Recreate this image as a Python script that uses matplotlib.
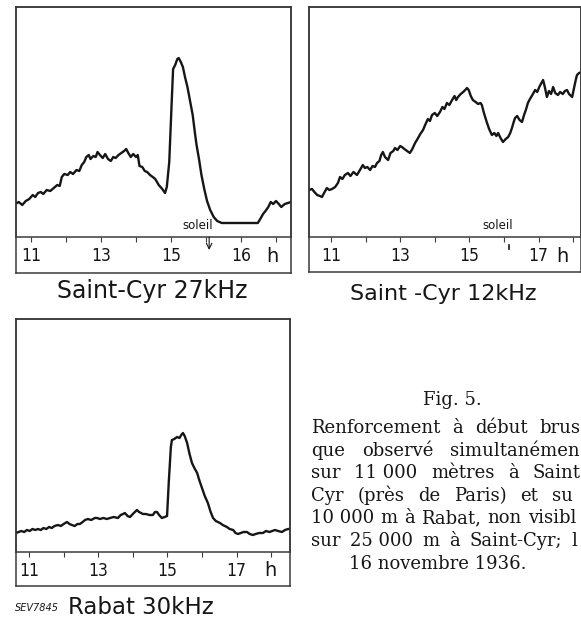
import matplotlib
matplotlib.use('Agg')
import matplotlib.pyplot as plt

W, H = 581, 620

# ---------------- data (hour of day, signal level in arbitrary units) ----------------
p1_hours = [10.55, 10.65, 10.75, 10.85, 10.95, 11.05, 11.12, 11.2, 11.28, 11.35, 11.45, 11.55, 11.65,
            11.75, 11.82, 11.88, 11.95, 12.05, 12.12, 12.2, 12.3, 12.38, 12.45, 12.52, 12.58, 12.65,
            12.7, 12.78, 12.85, 12.9, 12.97, 13.05, 13.12, 13.2, 13.28, 13.35, 13.42, 13.5, 13.58,
            13.66, 13.72, 13.78, 13.85, 13.92, 14.0, 14.05, 14.1, 14.18, 14.25, 14.32, 14.4, 14.48,
            14.55, 14.65, 14.75, 14.83, 14.88, 14.95, 15.02, 15.06, 15.12, 15.18, 15.22, 15.28, 15.34,
            15.4, 15.47, 15.55, 15.62, 15.68, 15.73, 15.8, 15.87, 15.95, 16.03, 16.12, 16.22, 16.32,
            16.45, 16.8, 17.2, 17.48, 17.55, 17.63, 17.7, 17.78, 17.85, 17.92, 18.0, 18.08, 18.15,
            18.25, 18.43]
p1_level = [33, 35, 32, 36, 38, 42, 40, 44, 45, 43, 47, 46, 49,
            52, 51, 60, 63, 62, 65, 63, 67, 66, 72, 75, 80, 82,
            78, 81, 80, 85, 82, 79, 83, 78, 76, 80, 79, 82, 84,
            86, 88, 84, 80, 83, 80, 82, 71, 70, 66, 65, 62, 60,
            58, 52, 48, 44, 50, 75, 135, 168, 172, 178, 179, 175, 170,
            160, 150, 135, 122, 105, 92, 78, 62, 48, 36, 27, 20, 16,
            14, 14, 14, 14, 18, 23, 26, 30, 35, 33, 36, 33, 30,
            33, 35]

p2_hours = [10.36, 10.45, 10.52, 10.6, 10.68, 10.74, 10.8, 10.88, 10.95, 11.03, 11.12, 11.2, 11.26,
            11.33, 11.4, 11.49, 11.56, 11.65, 11.75, 11.82, 11.92, 11.98, 12.05, 12.13, 12.2, 12.27,
            12.33, 12.4, 12.45, 12.5, 12.56, 12.65, 12.72, 12.8, 12.85, 12.92, 13.0, 13.05, 13.12,
            13.2, 13.28, 13.35, 13.43, 13.5, 13.58, 13.66, 13.72, 13.8, 13.86, 13.92, 14.0, 14.07,
            14.15, 14.22, 14.28, 14.35, 14.42, 14.5, 14.57, 14.62, 14.67, 14.75, 14.82, 14.88, 14.93,
            14.98, 15.04, 15.1, 15.18, 15.25, 15.32, 15.36, 15.42, 15.5, 15.57, 15.65, 15.72, 15.78,
            15.83, 15.9, 15.97, 16.05, 16.12, 16.18, 16.23, 16.28, 16.32, 16.38, 16.45, 16.52, 16.58,
            16.64, 16.69, 16.75, 16.82, 16.9, 16.96, 17.02, 17.08, 17.13, 17.18, 17.24, 17.3, 17.36,
            17.42, 17.48, 17.56, 17.62, 17.7, 17.76, 17.82, 17.88, 17.97, 18.03, 18.08, 18.11, 18.17,
            18.25]
p2_level = [47, 48, 45, 42, 41, 40, 44, 49, 47, 48, 50, 54, 60,
            58, 62, 64, 61, 65, 62, 66, 72, 69, 70, 67, 71, 70,
            74, 76, 82, 85, 80, 77, 84, 86, 89, 87, 91, 90, 88,
            86, 84, 88, 94, 98, 103, 107, 112, 118, 116, 122, 124, 121,
            125, 130, 128, 134, 132, 137, 141, 137, 140, 143, 145, 147, 149,
            147, 141, 137, 135, 133, 134, 132, 124, 115, 108, 102, 104, 101,
            104, 99, 95, 98, 100, 104, 109, 115, 119, 121, 117, 115, 122,
            128, 134, 138, 142, 147, 145, 150, 154, 157, 150, 140, 146, 143,
            150, 144, 142, 145, 143, 146, 147, 143, 140, 150, 158, 162, 164,
            165]

p3_hours = [10.63, 10.7, 10.78, 10.86, 10.94, 11.02, 11.1, 11.18, 11.26, 11.34, 11.42, 11.5, 11.58,
            11.66, 11.74, 11.84, 11.92, 12.0, 12.1, 12.17, 12.24, 12.32, 12.4, 12.47, 12.55, 12.62,
            12.7, 12.8, 12.9, 12.97, 13.05, 13.15, 13.25, 13.34, 13.45, 13.57, 13.65, 13.72, 13.77,
            13.85, 13.92, 14.0, 14.06, 14.12, 14.18, 14.24, 14.29, 14.38, 14.48, 14.58, 14.64, 14.7,
            14.76, 14.84, 14.92, 14.99, 15.04, 15.1, 15.13, 15.2, 15.28, 15.35, 15.4, 15.45, 15.5,
            15.57, 15.64, 15.71, 15.78, 15.86, 15.92, 16.0, 16.08, 16.17, 16.25, 16.32, 16.4, 16.52,
            16.6, 16.72, 16.8, 16.9, 16.97, 17.04, 17.12, 17.2, 17.3, 17.38, 17.47, 17.55, 17.65,
            17.76, 17.85, 17.95, 18.03, 18.11, 18.2, 18.31, 18.4, 18.49, 18.54]
p3_level = [19, 20, 21, 20, 22, 21, 23, 22, 23, 22, 24, 23, 25,
            24, 26, 27, 26, 28, 30, 28, 27, 26, 28, 28, 30, 32,
            33, 32, 34, 34, 33, 34, 33, 34, 35, 34, 37, 38, 39,
            36, 35, 38, 40, 42, 40, 39, 38, 38, 37, 37, 40, 40,
            37, 34, 35, 36, 70, 105, 112, 113, 115, 114, 117, 119, 116,
            109, 98, 89, 84, 79, 72, 64, 56, 49, 40, 34, 31, 29,
            27, 25, 23, 22, 19, 18, 19, 20, 20, 18, 17, 18, 19,
            19, 21, 20, 21, 22, 21, 20, 22, 23, 23]

tick_hours = [11, 12, 13, 14, 15, 16, 17, 18]
p1_tick_labels = ['11', '', '13', '', '15', '', '16', '']
p2_tick_labels = ['11', '', '13', '', '15', '', '17', '']
p3_tick_labels = ['11', '', '13', '', '15', '', '17', '']

p1_title = 'Saint-Cyr 27kHz'
p2_title = 'Saint -Cyr 12kHz'
p3_title = 'Rabat 30kHz'
p1_sunset = 16.09
p2_sunset = 16.14

caption_title = 'Fig. 5.'
caption_lines = [
    ['Renforcement', 'à', 'début', 'brus'],
    ['que', 'observé', 'simultanémen'],
    ['sur', '11 000', 'mètres', 'à', 'Saint'],
    ['Cyr', '(près', 'de', 'Paris)', 'et', 'su'],
    ['10 000', 'm', 'à', 'Rabat,', 'non', 'visibl'],
    ['sur', '25 000', 'm', 'à', 'Saint-Cyr;', 'l'],
]
caption_last = '16 novembre 1936.'

# ---------------- layout helpers ----------------
fig = plt.figure(figsize=(W / 100, H / 100), dpi=100)
fig.patch.set_facecolor('white')

INK = '#161616'
FRAME = '#3a3a3a'


def rect(x0, y0, x1, y1):
    return [x0 / W, 1 - y1 / H, (x1 - x0) / W, (y1 - y0) / H]


def panel(x0, x1, y0, axis_y, y1, px_h11, px_per_h, hours, level, labels):
    # outer frame (chart + tick-label strip)
    fr = fig.add_axes(rect(x0, y0, x1, y1))
    fr.set_xticks([]); fr.set_yticks([])
    for s in fr.spines.values():
        s.set_color(FRAME); s.set_linewidth(1.1)
    fr.patch.set_alpha(0)
    # data area
    ax = fig.add_axes(rect(x0, y0, x1, axis_y))
    ax.patch.set_alpha(0)
    ax.set_xlim(11 + (x0 - px_h11) / px_per_h, 11 + (x1 - px_h11) / px_per_h)
    ax.set_ylim(0, axis_y - y0)
    ax.plot(hours, level, color=INK, lw=1.7, solid_joinstyle='round')
    for s in ax.spines.values():
        s.set_color(FRAME); s.set_linewidth(1.1)
    ax.set_yticks([])
    ax.set_xticks(tick_hours, labels)
    ax.tick_params(axis='x', direction='out', length=3.5, width=0.8, color=FRAME,
                   pad=3.5, labelsize=12.5, labelcolor=INK)
    for t in ax.get_xticklabels():
        t.set_family('DejaVu Sans')
        t.set_fontstretch('condensed')
    return ax


def title(cx, yb, text, size):
    fig.text(cx / W, 1 - yb / H, text, ha='center', va='baseline',
             fontsize=size, color=INK, family='DejaVu Sans')


# Panel 1
ax1 = panel(16, 291, 7, 237, 273, 31, 35.0, p1_hours, p1_level, p1_tick_labels)
title(152, 298, p1_title, 17)
ax1.text(17.9, -19, 'h', ha='center', va='center', fontsize=14, color=INK,
         family='DejaVu Sans', clip_on=False)
ax1.text(p1_sunset - 0.32, 5, 'soleil', ha='center', va='bottom', fontsize=8.5,
         color=INK, family='DejaVu Sans')
ax1.annotate('', xy=(p1_sunset, -13), xytext=(p1_sunset, 0),
             arrowprops=dict(arrowstyle='->', lw=0.8, color=INK, shrinkA=0, shrinkB=0),
             annotation_clip=False)

# Panel 2
ax2 = panel(309, 581, 7, 237, 272, 331, 34.6, p2_hours, p2_level, p2_tick_labels)
title(443, 300, p2_title, 16)
ax2.text(17.68, -19, 'h', ha='center', va='center', fontsize=14, color=INK,
         family='DejaVu Sans', clip_on=False)
ax2.text(p2_sunset - 0.32, 5, 'soleil', ha='center', va='bottom', fontsize=8.5,
         color=INK, family='DejaVu Sans')
ax2.plot([p2_sunset, p2_sunset], [-8, -11.5], color=INK, lw=1.2, clip_on=False)

# Panel 3
ax3 = panel(16, 290, 319, 552, 586, 29, 34.6, p3_hours, p3_level, p3_tick_labels)
title(141, 614, p3_title, 16.5)
ax3.text(17.97, -19, 'h', ha='center', va='center', fontsize=14, color=INK,
         family='DejaVu Sans', clip_on=False)
fig.text(15 / W, 1 - 611 / H, 'SEV7845', ha='left', va='baseline', fontsize=7,
         style='italic', color=INK, family='DejaVu Sans')

# ---------------- caption (justified) ----------------
SERIF = 'DejaVu Serif'
CAP_SIZE = 13
fig.text(452 / W, 1 - 405 / H, caption_title, ha='center', va='baseline',
         fontsize=CAP_SIZE, color=INK, family=SERIF)

renderer = fig.canvas.get_renderer()
left_px = 311
right_px = [580, 580, 580, 573, 576, 577]
for i, words in enumerate(caption_lines):
    yb = 433 + 22.6 * i
    texts = [fig.text(0, 1 - yb / H, w, ha='left', va='baseline', fontsize=CAP_SIZE,
                      color=INK, family=SERIF) for w in words]
    widths = [t.get_window_extent(renderer).width for t in texts]
    gap = (right_px[i] - left_px - sum(widths)) / (len(words) - 1)
    x = left_px
    for t, wd in zip(texts, widths):
        t.set_x(x / W)
        x += wd + gap

fig.text(438 / W, 1 - 569 / H, caption_last, ha='center', va='baseline',
         fontsize=CAP_SIZE, color=INK, family=SERIF)

fig.savefig('out.png', dpi=100, facecolor='white')
